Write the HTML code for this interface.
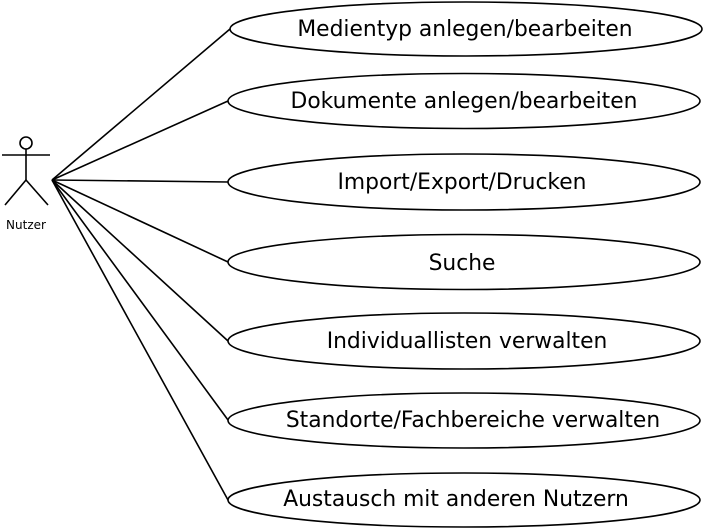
<!DOCTYPE html>
<html><head><meta charset="utf-8"><style>
html,body{margin:0;padding:0;background:#fff;}
svg{display:block;}
text{font-family:"DejaVu Sans","Liberation Sans",sans-serif;fill:#000;}
</style></head><body>
<svg width="704" height="530" viewBox="0 0 704 530" xmlns="http://www.w3.org/2000/svg">
<g stroke="#000" stroke-width="1.6" fill="none">
<circle cx="26" cy="143" r="6"/>
<line x1="26" y1="149" x2="26" y2="180"/>
<line x1="2" y1="155" x2="50" y2="155"/>
<line x1="26" y1="180" x2="5" y2="205"/>
<line x1="26" y1="180" x2="48" y2="205"/>
<line x1="52" y1="180" x2="230" y2="29"/>
<line x1="52" y1="180" x2="228" y2="101"/>
<line x1="52" y1="180" x2="228" y2="182"/>
<line x1="52" y1="180" x2="228" y2="262"/>
<line x1="52" y1="180" x2="228" y2="341"/>
<line x1="52" y1="180" x2="228" y2="420"/>
<line x1="52" y1="180" x2="228" y2="500"/>
<ellipse cx="466" cy="29" rx="236" ry="27" fill="#fff"/>
<ellipse cx="464" cy="101" rx="236" ry="27.5" fill="#fff"/>
<ellipse cx="464" cy="182" rx="236" ry="28" fill="#fff"/>
<ellipse cx="464" cy="262" rx="236" ry="27.5" fill="#fff"/>
<ellipse cx="464" cy="341" rx="236" ry="28" fill="#fff"/>
<ellipse cx="464" cy="420.5" rx="236" ry="27.5" fill="#fff"/>
<ellipse cx="464" cy="500" rx="236" ry="27" fill="#fff"/>
</g>
<text x="26" y="229" font-size="12" text-anchor="middle">Nutzer</text>
<g font-size="21.8" text-anchor="middle">
<text x="465" y="36">Medientyp anlegen/bearbeiten</text>
<text x="464" y="108">Dokumente anlegen/bearbeiten</text>
<text x="462" y="189">Import/Export/Drucken</text>
<text x="462" y="270">Suche</text>
<text x="467" y="348">Individuallisten verwalten</text>
<text x="473" y="427">Standorte/Fachbereiche verwalten</text>
<text x="456" y="506">Austausch mit anderen Nutzern</text>
</g>
</svg>
</body></html>
